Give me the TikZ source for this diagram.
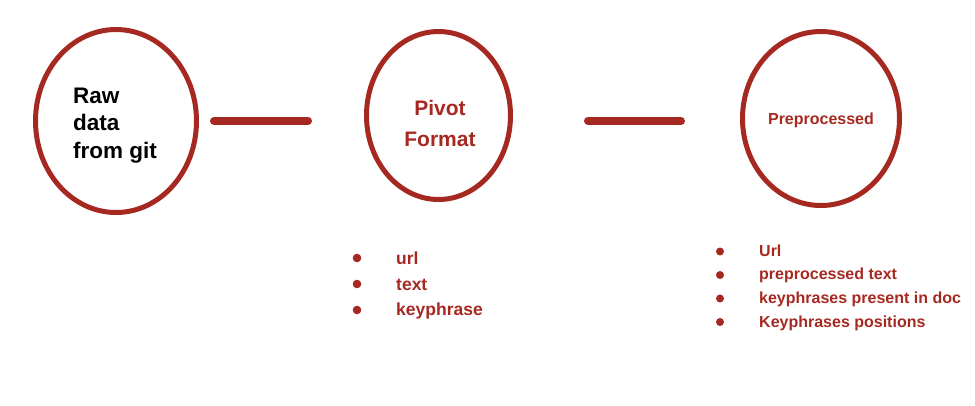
\documentclass[tikz,border=0pt]{standalone}
\usepackage{fontspec}
\setmainfont{Liberation Sans}
\usetikzlibrary{shapes.geometric}
\definecolor{dred}{RGB}{166,41,33}

\tikzset{
  stage/.style={ellipse, draw=dred, line width=5pt, inner sep=0pt},
  link/.style={dred, line width=8pt, line cap=round},
  lbl/.style={inner sep=0pt, anchor=base west, font=\bfseries},
}

\begin{document}
\begin{tikzpicture}[x=1pt, y=-1pt]
\useasboundingbox (0,0) rectangle (975,405);

%% stages
\node[stage, minimum width=161pt, minimum height=183pt] (raw) at (116,121) {};
\node[stage, minimum width=144pt, minimum height=168pt] (pivot) at (438.5,115.5) {};
\node[stage, minimum width=157pt, minimum height=174pt] (prep) at (821,118.5) {};

%% stage texts
\node[lbl, font=\bfseries\fontsize{22.5}{27.5}\selectfont, align=left, anchor=base west] (rawtxt) at (73,158) {Raw\\data\\from git};
\node[lbl, text=dred, font=\bfseries\fontsize{21}{31}\selectfont, align=center, anchor=base] (pivottxt) at (440,146) {Pivot\\Format};
\node[lbl, text=dred, font=\bfseries\fontsize{16}{19}\selectfont, anchor=base] (preptxt) at (821,124) {Preprocessed};

%%% links
\coordinate (l1a) at (214,121);
\coordinate (l1b) at (308,121);
\coordinate (l2a) at (588,121);
\coordinate (l2b) at (681,121);
\draw[link] (l1a) -- (l1b);
\draw[link] (l2a) -- (l2b);

%% pivot fields
\fill[dred] (357,258) circle (4.3pt);
\fill[dred] (357,284) circle (4.3pt);
\fill[dred] (357,310) circle (4.3pt);
\node[lbl, text=dred, font=\bfseries\fontsize{17.5}{21}\selectfont] (f1) at (396,264) {url};
\node[lbl, text=dred, font=\bfseries\fontsize{17.5}{21}\selectfont] (f2) at (396,290) {text};
\node[lbl, text=dred, font=\bfseries\fontsize{17.5}{21}\selectfont] (f3) at (396,315) {keyphrase};

%% preprocessed fields
\fill[dred] (720,251.5) circle (4pt);
\fill[dred] (720,275) circle (4pt);
\fill[dred] (720,298.5) circle (4pt);
\fill[dred] (720,322) circle (4pt);
\node[lbl, text=dred, font=\bfseries\fontsize{16}{19}\selectfont] (g1) at (759,256) {Url};
\node[lbl, text=dred, font=\bfseries\fontsize{16}{19}\selectfont] (g2) at (759,279) {preprocessed text};
\node[lbl, text=dred, font=\bfseries\fontsize{16}{19}\selectfont] (g3) at (759,303) {keyphrases present in doc};
\node[lbl, text=dred, font=\bfseries\fontsize{16}{19}\selectfont] (g4) at (759,327) {Keyphrases positions};

\end{tikzpicture}
\end{document}
